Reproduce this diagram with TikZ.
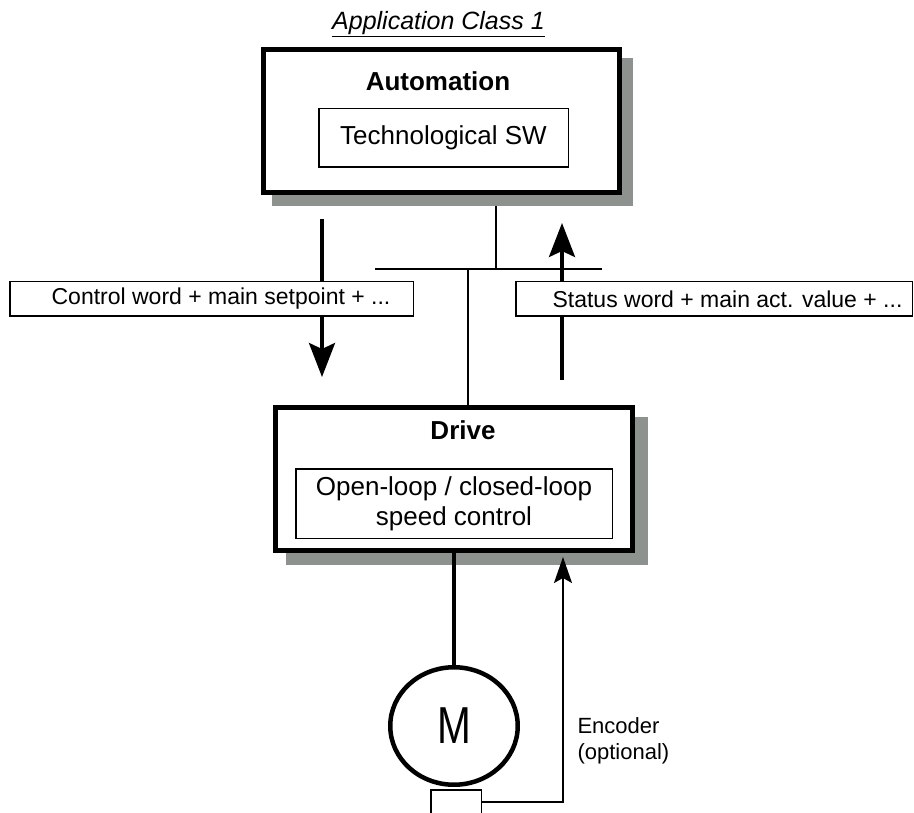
\documentclass[tikz,border=0pt]{standalone}
\usepackage{fontspec}
\setmainfont{Liberation Sans}
\usetikzlibrary{arrows.meta,shapes.geometric,backgrounds}
\definecolor{shadowgray}{RGB}{142,146,142}

\begin{document}
\begin{tikzpicture}[x=1pt,y=-1pt]
	\tikzstyle{unit}=[draw,line width=5pt,fill=white,inner sep=0pt]
	\tikzstyle{inner}=[draw,line width=1.5pt,fill=white,inner sep=0pt]
	\tikzstyle{tag}=[draw,line width=1.5pt,fill=white,minimum height=34.5pt,inner ysep=2pt,inner xsep=2pt,font=\fontsize{23}{26}\selectfont]
	\tikzstyle{bus}=[line width=1.5pt]
	\tikzstyle{flow}=[line width=3.5pt,-{Stealth[length=34pt,width=26pt,inset=6pt]}]
	\useasboundingbox (0,0) rectangle (914,813);
	\clip (0,0) rectangle (914,813);

	\node[anchor=base,font=\fontsize{25}{28}\selectfont\itshape] (title) at (438.5,30) {\underline{Application Class 1}};

	% automation
	\node[unit,minimum width=356pt,minimum height=143pt] (auto) at (441.5,121) {};
	\node[font=\bfseries\fontsize{26}{30}\selectfont] (autotitle) at (438,81) {Automation};
	\node[inner,minimum width=249.5pt,minimum height=58.5pt,font=\fontsize{26}{30}\selectfont] (sw) at (443.5,138) {Technological SW};

	% drive
	\node[unit,minimum width=357pt,minimum height=143pt] (drive) at (454,479) {};
	\node[font=\bfseries\fontsize{26}{30}\selectfont] (drivetitle) at (463,430.5) {Drive};
	\node[inner,minimum width=316.5pt,minimum height=69.5pt,align=center,font=\fontsize{26}{30}\selectfont] (ctrl) at (454,503.5) {Open-loop / closed-loop\\speed control};

	% bus
	\coordinate (busL) at (375,269);
	\coordinate (busR) at (602,269);
	\coordinate (tapA) at (496,269);
	\coordinate (tapD) at (468,269);
	\draw[bus] (busL) -- (busR);
	\draw[bus] (tapD) -- (tapD |- drive.north);

	\begin{scope}[on background layer]
		\draw[bus] (tapA) -- (tapA |- auto.south);
		\fill[shadowgray] ([shift={(11,11)}]auto.north west) rectangle ([shift={(11,11)}]auto.south east);
		\fill[shadowgray] ([shift={(13,12)}]drive.north west) rectangle ([shift={(13,12)}]drive.south east);
	\end{scope}

	% telegrams
	\coordinate (cwtop) at (322,219);
	\coordinate (cwtip) at (322,377);
	\coordinate (stwtail) at (562,380);
	\coordinate (stwtip) at (562,223);
	\draw[flow] (cwtop) -- (cwtip);
	\draw[flow] (stwtail) -- (stwtip);
	\node[tag,minimum width=403.5pt] (cw) at (211.5,299) {\hspace*{19pt}Control word + main setpoint + ...};
	\node[tag,minimum width=396.5pt] (stw) at (714,299) {\hspace*{27pt}Status word + main act. value + ...};

	% motor and encoder
	\node[ellipse,draw,line width=4.5pt,minimum width=127.5pt,minimum height=117.5pt,inner sep=0pt,font=\fontsize{52}{52}\selectfont] (motor) at (454,726) {\scalebox{0.78}[1]{M}};
	\draw[line width=4.5pt] (drive.south) -- (motor.north);
	\node[inner,minimum width=50.5pt,minimum height=24.5pt] (enc) at (456,802) {};
	\coordinate (enctip) at (563,557);
	\draw[line width=1.5pt,-{Stealth[length=26pt,width=18pt,inset=5pt]}] (enc.east) -| (enctip);
	\node[anchor=west,align=left,font=\fontsize{22}{26}\selectfont] (enclabel) at (574,741) {Encoder\\(optional)};
\end{tikzpicture}
\end{document}
